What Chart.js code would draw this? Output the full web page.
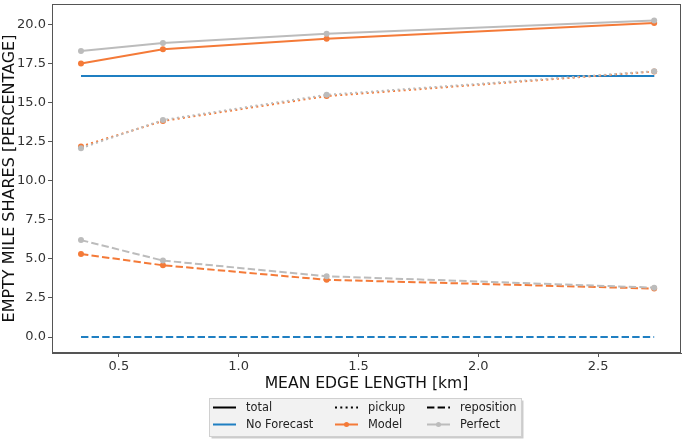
<!DOCTYPE html>
<html>
<head>
<meta charset="utf-8">
<script src="https://cdn.jsdelivr.net/npm/chart.js@4/dist/chart.umd.min.js"></script>
<style>
  html, body { margin: 0; padding: 0; background: #fff; }
  #wrap { width: 685px; height: 439px; }
</style>
</head>
<body>
<div id="wrap"><canvas id="chart" width="685" height="439"></canvas></div>
<script>
// mean edge length [km]
const edgeLength = [0.342, 0.684, 1.367, 2.734];

// empty mile shares [%]
const noForecastTotal = [16.7, 16.7, 16.7, 16.7];
const noForecastPickup = [16.7, 16.7, 16.7, 16.7];
const noForecastReposition = [0.0, 0.0, 0.0, 0.0];
const modelTotal = [17.5, 18.4, 19.07, 20.08];
const modelPickup = [12.19, 13.82, 15.41, 16.98];
const modelReposition = [5.31, 4.59, 3.66, 3.10];
const perfectTotal = [18.29, 18.8, 19.4, 20.25];
const perfectPickup = [12.08, 13.88, 15.49, 17.0];
const perfectReposition = [6.2, 4.89, 3.89, 3.16];

const xTicks = [0.5, 1.0, 1.5, 2.0, 2.5];
const yTicks = [0.0, 2.5, 5.0, 7.5, 10.0, 12.5, 15.0, 17.5, 20.0];

const BLUE = '#1f7fc2';
const ORANGE = '#f47a38';
const GREY = '#bcbcbc';
const DOTTED = [2, 3.3];
const DASHED = [7.4, 3.2];

function pts(ys) {
    return edgeLength.map((x, i) => ({ x: x, y: ys[i] }));
}

function series(ys, color, dash, marker) {
    return {
        data: pts(ys),
        borderColor: color,
        backgroundColor: color,
        borderWidth: 2,
        borderDash: dash,
        pointRadius: marker ? 3 : 0,
        pointBorderWidth: 0,
        pointBackgroundColor: color,
        fill: false,
        tension: 0
    };
}

const datasets = [
    series(perfectReposition, GREY, DASHED, true),
    series(modelReposition, ORANGE, DASHED, true),
    series(noForecastReposition, BLUE, DASHED, false),
    series(perfectPickup, GREY, DOTTED, true),
    series(modelPickup, ORANGE, DOTTED, true),
    series(noForecastPickup, BLUE, DOTTED, false),
    series(perfectTotal, GREY, [], true),
    series(modelTotal, ORANGE, [], true),
    series(noForecastTotal, BLUE, [], false)
];

// legend entries, row by row
const legendItems = [
    { label: 'total', color: '#000', dash: [], marker: false },
    { label: 'pickup', color: '#000', dash: DOTTED, marker: false },
    { label: 'reposition', color: '#000', dash: DASHED, marker: false },
    { label: 'No Forecast', color: BLUE, dash: [], marker: false },
    { label: 'Model', color: ORANGE, dash: [], marker: true },
    { label: 'Perfect', color: GREY, dash: [], marker: true }
];

const framePlugin = {
    id: 'frame',
    afterDraw(chart) {
        const ctx = chart.ctx;
        const a = chart.chartArea;
        ctx.save();
        ctx.strokeStyle = '#555';
        ctx.lineWidth = 1;
        ctx.strokeRect(a.left + 0.5, a.top + 0.5, a.right - a.left - 1, a.bottom - a.top - 1);

        // legend box
        const bx = 209.5, by = 398.5, bw = 312, bh = 38;
        ctx.fillStyle = 'rgba(0,0,0,0.2)';
        ctx.fillRect(bx + 2, by + 2, bw, bh);
        ctx.fillStyle = '#f2f2f2';
        ctx.fillRect(bx, by, bw, bh);
        ctx.strokeStyle = '#d0d0d0';
        ctx.strokeRect(bx, by, bw, bh);

        const colX = [213, 335, 427];
        const rowY = [407.5, 424.5];
        ctx.font = '11.4px "DejaVu Sans"';
        ctx.textBaseline = 'middle';
        legendItems.forEach((it, i) => {
            const x = colX[i % 3];
            const y = rowY[Math.floor(i / 3)];
            ctx.strokeStyle = it.color;
            ctx.lineWidth = 2;
            ctx.setLineDash(it.dash);
            ctx.beginPath();
            ctx.moveTo(x, y);
            ctx.lineTo(x + 23, y);
            ctx.stroke();
            ctx.setLineDash([]);
            if (it.marker) {
                ctx.fillStyle = it.color;
                ctx.beginPath();
                ctx.arc(x + 11.5, y, 2.5, 0, Math.PI * 2);
                ctx.fill();
            }
            ctx.fillStyle = '#222';
            ctx.fillText(it.label, x + 33, y + 0.5);
        });
        ctx.restore();
    }
};

new Chart(document.getElementById('chart'), {
    type: 'line',
    data: { datasets: datasets },
    plugins: [framePlugin],
    options: {
        responsive: false,
        animation: false,
        layout: { padding: { top: 2, right: 3, left: 0, bottom: 46 } },
        plugins: {
            legend: { display: false },
            tooltip: { enabled: false }
        },
        scales: {
            x: {
                type: 'linear',
                min: 0.221,
                max: 2.846,
                afterFit(scale) {
                    scale.height = 40;
                    scale.paddingLeft = 0;
                    scale.paddingRight = 0;
                },
                afterBuildTicks(scale) { scale.ticks = xTicks.map(v => ({ value: v })); },
                grid: { display: true, drawOnChartArea: false, drawTicks: true, tickLength: 4, color: '#555' },
                border: { color: '#555' },
                ticks: {
                    color: '#333',
                    font: { family: 'DejaVu Sans', size: 13 },
                    padding: 2,
                    maxRotation: 0,
                    callback: v => v.toFixed(1)
                },
                title: {
                    display: true,
                    text: 'MEAN EDGE LENGTH [km]',
                    color: '#111',
                    font: { family: 'DejaVu Sans', size: 15.6 },
                    padding: { top: 5, bottom: 0 }
                }
            },
            y: {
                type: 'linear',
                min: -1.02,
                max: 21.3,
                afterFit(scale) {
                    scale.width = 52;
                    scale.paddingTop = 0;
                    scale.paddingBottom = 0;
                },
                afterBuildTicks(scale) { scale.ticks = yTicks.map(v => ({ value: v })); },
                grid: { display: true, drawOnChartArea: false, drawTicks: true, tickLength: 4, color: '#555' },
                border: { color: '#555' },
                ticks: {
                    color: '#333',
                    font: { family: 'DejaVu Sans', size: 13 },
                    padding: 2,
                    callback: v => v.toFixed(1)
                },
                title: {
                    display: true,
                    text: 'EMPTY MILE SHARES [PERCENTAGE]',
                    color: '#111',
                    font: { family: 'DejaVu Sans', size: 16 },
                    padding: { top: 0, bottom: 2 }
                }
            }
        }
    }
});
</script>
</body>
</html>
